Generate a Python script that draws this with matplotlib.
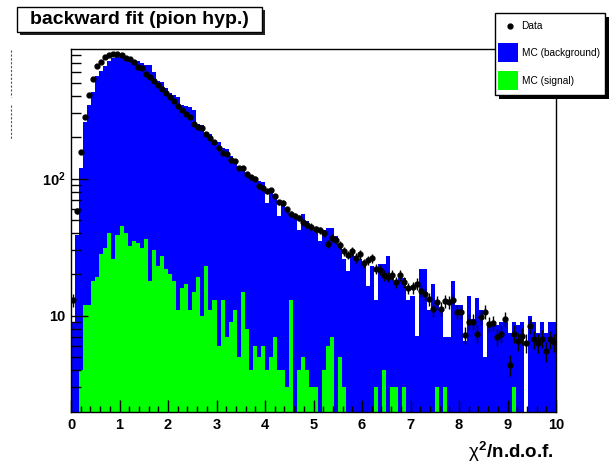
import numpy as np
import matplotlib.pyplot as plt
from matplotlib.lines import Line2D
from matplotlib.patches import Rectangle

plt.rcParams['font.family'] = ['Liberation Sans', 'DejaVu Sans']
plt.rcParams['mathtext.fontset'] = 'custom'
plt.rcParams['mathtext.bf'] = 'Liberation Sans:bold'
plt.rcParams['mathtext.rm'] = 'Liberation Sans'
plt.rcParams['mathtext.it'] = 'Liberation Sans'

# 120 bins of chi2/ndof between 0 and 10
n_bins = 120
x_lo, x_hi = 0.0, 10.0

data_vals = [13, 58, 157, 281, 406, 529, 661, 703, 773, 800,
             804, 804, 791, 756, 739, 703, 650, 636, 582, 547,
             514, 483, 452, 418, 391, 365, 338, 318, 297, 281,
             251, 236, 235, 210, 199, 186, 168, 153, 152, 136,
             135, 119, 119, 107, 103, 100, 87.5, 85.5, 80.9, 82.2,
             74.0, 66.9, 66.5, 59.5, 55.0, 53.2, 51.4, 48.1, 46.0, 44.5,
             42.8, 41.8, 40.0, 33.4, 37.0, 35.4, 33.0, 29.4, 27.8, 29.4,
             26.4, 28.2, 24.2, 25.3, 26.3, 21.9, 21.6, 19.7, 19.2, 19.9,
             17.5, 19.7, 17.6, 15.9, 16.1, 17.1, 15.2, 14.4, 13.2, 11.1,
             12.6, 11.2, 12.7, 12.5, 13.1, 10.7, 10.7, 7.2, 9.0, 9.0,
             7.4, 9.8, 10.7, 8.7, 8.8, 7.0, 7.4, 9.4, 4.4, 7.4,
             6.5, 7.1, 6.3, 8.4, 6.7, 6.3, 6.8, 5.5, 6.7, 6.4]

data_errs = [1.4, 2.9, 4.9, 6.5, 7.8, 8.9, 10.0, 10.3, 10.8, 11.0,
             11.0, 11.0, 10.9, 10.6, 10.5, 10.3, 9.9, 9.8, 9.3, 9.1,
             8.8, 8.5, 8.2, 7.9, 7.7, 7.4, 7.1, 6.9, 6.7, 6.5,
             6.1, 5.9, 5.9, 5.6, 5.5, 5.3, 5.0, 4.8, 4.8, 4.5,
             4.5, 4.2, 4.2, 4.0, 3.9, 3.9, 3.6, 3.6, 3.5, 3.5,
             3.3, 3.2, 3.2, 3.0, 2.9, 2.8, 2.8, 2.7, 2.6, 2.6,
             2.5, 2.5, 2.4, 2.2, 2.4, 2.3, 2.2, 2.1, 2.0, 2.1,
             2.0, 2.1, 1.9, 1.9, 2.0, 1.8, 1.8, 1.7, 1.7, 1.7,
             1.6, 1.7, 1.6, 1.5, 1.6, 1.6, 1.5, 1.5, 1.4, 1.3,
             1.4, 1.3, 1.4, 1.4, 1.4, 1.3, 1.3, 1.0, 1.2, 1.2,
             1.1, 1.2, 1.3, 1.1, 1.1, 1.0, 1.1, 1.2, 0.8, 1.1,
             1.0, 1.0, 1.0, 1.1, 1.0, 1.0, 1.0, 0.9, 1.0, 1.0]

mc_total = [8.8, 39, 119, 257, 344, 430, 560, 611, 661, 723,
            752, 764, 773, 773, 752, 731, 723, 692, 672, 672,
            601, 514, 508, 455, 418, 406, 391, 344, 340, 330,
            316, 249, 247, 214, 211, 189, 186, 166, 164, 147,
            137, 124, 122, 109, 106, 100, 96, 95, 66, 83,
            76, 53, 68, 58, 56, 51, 42, 55, 49, 44,
            42, 35, 42, 43.5, 43.5, 38, 33, 26, 21, 28,
            27, 26, 24, 16.4, 23, 13, 24, 24, 27, 20,
            17.3, 18.8, 18.8, 13, 14, 7.1, 22, 22, 11, 17,
            12.5, 11, 7, 7, 18, 12, 12, 6.5, 14, 9.5,
            13.5, 11, 5, 9, 9, 8.5, 9, 9, 7.5, 9,
            8.5, 9, 0, 10, 9, 7.5, 9, 7.5, 9, 9]

mc_signal = [0, 0, 4, 12, 12, 18, 19, 28, 31, 40,
             26, 39, 45, 40, 32, 35, 34, 31, 36, 18,
             30, 23, 27, 22, 20, 18, 11, 16, 17, 11,
             15, 19, 10, 23, 11, 13, 6, 13, 7, 9,
             11, 5, 15, 8, 4, 6, 5, 6, 4, 5,
             7, 4, 4, 3, 13, 0, 4, 5, 4, 3,
             3, 0, 4, 6, 7, 0, 5, 3, 0, 0,
             0, 0, 0, 0, 0, 3, 0, 4, 0, 3,
             3, 0, 3, 0, 0, 0, 0, 0, 0, 0,
             3, 0, 3, 0, 0, 0, 0, 0, 0, 0,
             0, 0, 0, 0, 0, 0, 0, 0, 0, 3,
             0, 0, 0, 0, 0, 0, 0, 0, 0, 0]

edges = np.linspace(x_lo, x_hi, n_bins + 1)
centers = 0.5 * (edges[:-1] + edges[1:])
width = edges[1] - edges[0]

W, H = 613, 466
fig = plt.figure(figsize=(W / 100, H / 100), dpi=100)


def fx(px):
    return px / W


def fy(py):
    return 1 - py / H


# main pad
ax = fig.add_axes([fx(71), fy(411.5), fx(556) - fx(71), fy(49) - fy(411.5)])
ax.bar(centers, mc_total, width=width, color='#0000ff', linewidth=0, antialiased=False)
ax.bar(centers, mc_signal, width=width, color='#00ff00', linewidth=0, antialiased=False)
ax.errorbar(centers, data_vals, yerr=data_errs, fmt='o', color='black', ms=3.5,
            elinewidth=1, capsize=0)

ax.set_yscale('log')
ax.set_xlim(x_lo, x_hi)
ax.set_ylim(2.0, 880)

ax.set_xticks(np.arange(0, 11, 1))
ax.set_xticks(np.arange(0, 10.01, 0.2), minor=True)
ax.set_xticklabels([str(i) for i in range(11)], fontsize=10.5, fontweight='bold')

ax.set_yticks([10, 100])
ax.set_yticklabels(['10', r'$\mathbf{10^{2}}$'], fontsize=10.5, fontweight='bold')
ax.set_yticks([3, 4, 5, 6, 7, 8, 9, 20, 30, 40, 50, 60, 70, 80, 90,
               200, 300, 400, 500, 600, 700, 800], minor=True)
ax.yaxis.set_minor_formatter(plt.NullFormatter())

ax.tick_params(axis='x', which='major', direction='in', length=9, width=1, pad=5,
               top=False)
ax.tick_params(axis='x', which='minor', direction='in', length=4.5, width=1, top=False)
ax.tick_params(axis='y', which='major', direction='in', length=12, width=1, pad=4,
               right=False)
ax.tick_params(axis='y', which='minor', direction='in', length=7, width=1, right=False)
for s in ax.spines.values():
    s.set_linewidth(1)
    s.set_color('black')

# x axis title
fig.text(fx(554), fy(452), r'$\chi^{\mathbf{2}}$/n.d.o.f.', ha='right', va='center',
         fontsize=13.5, fontweight='bold')

# tiny unreadable y axis title
for y0, y1 in [(50, 97), (105, 140)]:
    fig.add_artist(Line2D([fx(10.7), fx(10.7)], [fy(y0), fy(y1)], color='#555555',
                          lw=0.8, linestyle=(0, (2, 1.5))))

# title box with shadow
fig.add_artist(Rectangle((fx(20), fy(35)), fx(262) - fx(17), fy(7) - fy(32),
                         facecolor='#222222', edgecolor='none'))
fig.add_artist(Rectangle((fx(17), fy(32)), fx(262) - fx(17), fy(7) - fy(32),
                         facecolor='white', edgecolor='black', lw=1))
fig.text(fx(139.5), fy(19.5), 'backward fit (pion hyp.)', ha='center', va='center',
         fontsize=14, fontweight='bold')

# legend box with shadow
fig.add_artist(Rectangle((fx(499), fy(99)), fx(605) - fx(495), fy(13) - fy(95),
                         facecolor='black', edgecolor='none'))
fig.add_artist(Rectangle((fx(495), fy(95)), fx(605) - fx(495), fy(13) - fy(95),
                         facecolor='white', edgecolor='black', lw=1))
fig.add_artist(Line2D([fx(509.5)], [fy(26)], marker='o', color='black', ms=3.5))
fig.add_artist(Rectangle((fx(498), fy(62)), fx(518) - fx(498), fy(43) - fy(62),
                         facecolor='#0000ff', edgecolor='none'))
fig.add_artist(Rectangle((fx(498), fy(90)), fx(518) - fx(498), fy(71) - fy(90),
                         facecolor='#00ff00', edgecolor='none'))
for label, yy in [('Data', 26), ('MC (background)', 52.5), ('MC (signal)', 80.5)]:
    fig.text(fx(521.5), fy(yy), label, ha='left', va='center', fontsize=7.3)

fig.savefig('out.png', dpi=100)
